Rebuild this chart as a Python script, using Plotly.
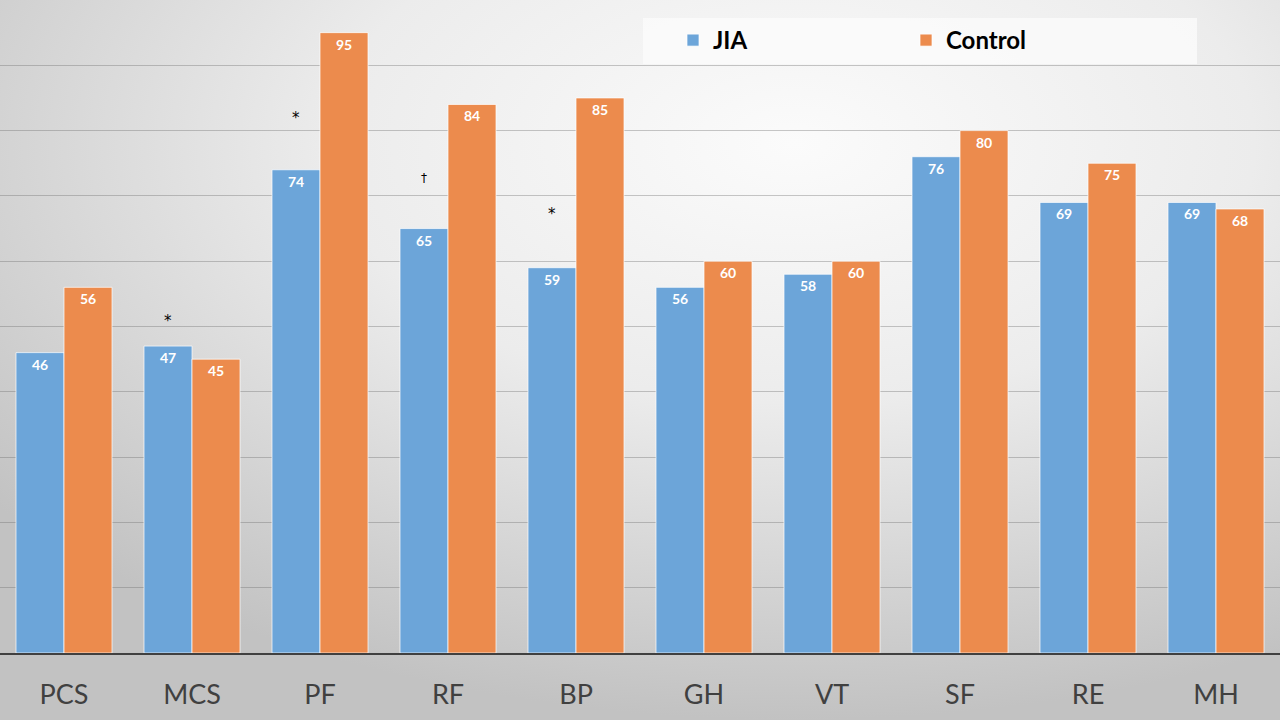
import base64
import plotly.graph_objects as go

# SF-36 scores, JIA vs control
categories = ["PCS", "MCS", "PF", "RF", "BP", "GH", "VT", "SF", "RE", "MH"]
jia = [46, 47, 74, 65, 59, 56, 58, 76, 69, 69]
control = [56, 45, 95, 84, 85, 60, 60, 80, 75, 68]

# significance marks shown above the JIA bars
sig_cats = ["MCS", "PF", "RF", "BP"]
sig_marks = ["*", "*", "†", "*"]
sig_y = [50.8, 82, 72.7, 67.2]

BLUE = "#6ca5d9"
ORANGE = "#ec8b4d"
FONT = "Lato"

# radial gray background like the original slide
svg = ('<svg xmlns="http://www.w3.org/2000/svg" width="1280" height="720" preserveAspectRatio="none">'
       '<defs><radialGradient id="g" cx="0.62" cy="0.2" r="0.8">'
       '<stop offset="0" stop-color="#fbfbfb"/><stop offset="0.45" stop-color="#ececec"/>'
       '<stop offset="1" stop-color="#c2c2c2"/></radialGradient></defs>'
       '<rect width="1280" height="720" fill="url(#g)"/></svg>')
bg_src = "data:image/svg+xml;base64," + base64.b64encode(svg.encode()).decode()

fig = go.Figure()
fig.add_trace(go.Bar(name="JIA", x=categories, y=jia, text=jia,
                     marker=dict(color=BLUE, line=dict(color="rgba(255,255,255,0.7)", width=1))))
fig.add_trace(go.Bar(name="Control", x=categories, y=control, text=control,
                     marker=dict(color=ORANGE, line=dict(color="rgba(255,255,255,0.7)", width=1))))
fig.update_traces(textposition="inside", insidetextanchor="end", textangle=0,
                  textfont=dict(family=FONT, size=14, color="white", weight="bold"))

for c, m, y in zip(sig_cats, sig_marks, sig_y):
    fig.add_annotation(x=c, y=y, text=m, showarrow=False, xshift=-24,
                       font=dict(family="DejaVu Sans", size=15 if m == "*" else 12, color="black"))

# legend backdrop
fig.add_shape(type="rect", xref="paper", yref="paper", x0=643/1280, x1=1197/1280,
              y0=1-64/653, y1=1-18/653, fillcolor="rgba(250,250,250,0.85)", line_width=0, layer="below")

fig.update_layout(
    width=1280, height=720,
    margin=dict(l=0, r=0, t=0, b=67),
    paper_bgcolor="rgba(0,0,0,0)", plot_bgcolor="rgba(0,0,0,0)",
    barmode="group", bargap=0.25, bargroupgap=0,
    images=[dict(source=bg_src, xref="paper", yref="paper", x=0, y=1, sizex=1, sizey=720/653,
                 xanchor="left", yanchor="top", sizing="stretch", layer="below")],
    showlegend=True,
    legend=dict(orientation="h", x=673/1280, y=1-18/653, xanchor="left", yanchor="top",
                bgcolor="rgba(0,0,0,0)", entrywidth=188, traceorder="normal",
                font=dict(family=FONT, size=24, color="black", weight="bold")),
    xaxis=dict(showline=True, linecolor="#404040", linewidth=2, ticks="", showgrid=False,
               tickfont=dict(family=FONT, size=27, color="#404040"), ticklabelstandoff=17),
    yaxis=dict(range=[0, 100], dtick=10, showticklabels=False, zeroline=False,
               gridcolor="rgba(110,110,110,0.38)", gridwidth=1),
)

fig.write_html("out.html", config={"displayModeBar": False},
               post_script="document.body.style.margin='0';document.body.style.overflow='hidden';")
